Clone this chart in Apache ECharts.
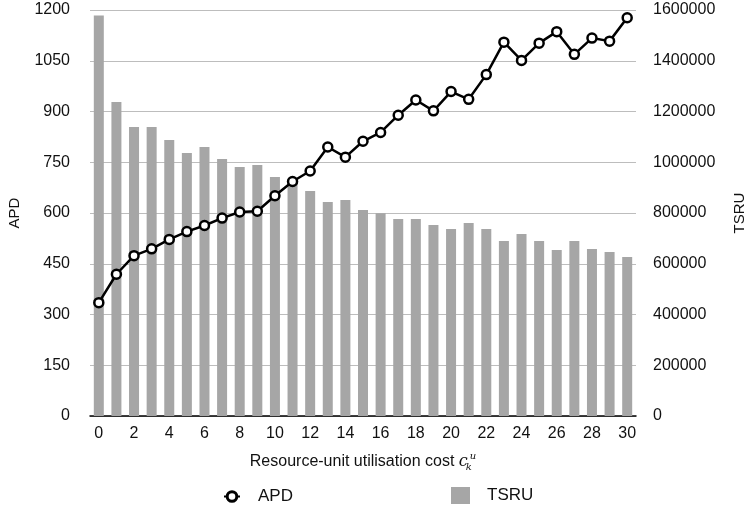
<!DOCTYPE html>
<html>
<head>
<meta charset="utf-8">
<script src="https://cdn.jsdelivr.net/npm/echarts@6/dist/echarts.min.js"></script>
<style>
  html, body { margin: 0; padding: 0; background: #fff; }
  #chart { width: 747px; height: 510px; }
</style>
</head>
<body>
<div id="chart"></div>
<script>
// Resource-unit utilisation cost values on the x axis
const costs = Array.from({ length: 31 }, (_, i) => String(i));

// Average processing delay per cost level
const apd = [335, 419, 474, 494, 522, 545, 563, 585, 603, 605,
             651, 693, 724, 795, 765, 812, 838, 889, 934, 902,
             959, 936, 1009, 1105, 1051, 1102, 1136, 1069, 1117, 1108, 1177];

// Total served resource units per cost level
const tsru = [1578000, 1237000, 1139000, 1139000, 1088000, 1036000, 1060000, 1013000, 981000, 989000,
              942000, 915000, 887000, 843000, 851000, 812000, 799000, 776000, 776000, 753000,
              737000, 761000, 737000, 690000, 717000, 690000, 654000, 690000, 658000, 646000, 627000];

const FONT = '"Liberation Sans", Arial, Helvetica, sans-serif';
const MATH = '"DejaVu Serif", "Liberation Serif", serif';
const TEXT = '#111';

const chart = echarts.init(document.getElementById('chart'), null, { renderer: 'canvas' });

chart.setOption({
  animation: false,
  backgroundColor: '#fff',
  textStyle: { fontFamily: FONT, color: TEXT },
  grid: { left: 90, right: 111, top: 10, bottom: 94, containLabel: false, outerBoundsMode: 'none' },
  legend: [
    {
      data: ['APD'],
      left: 218, top: 483,
      itemWidth: 16, itemHeight: 12, itemGap: 10,
      itemStyle: { borderWidth: 3 },
      textStyle: { fontFamily: FONT, fontSize: 17, color: TEXT, padding: [0, 0, 0, 13] }
    },
    {
      data: ['TSRU'],
      left: 446, top: 482,
      itemWidth: 19, itemHeight: 17, itemGap: 10,
      icon: 'rect',
      textStyle: { fontFamily: FONT, fontSize: 17, color: TEXT, padding: [0, 0, 0, 12] }
    }
  ],
  xAxis: {
    type: 'category',
    data: costs,
    boundaryGap: true,
    axisLine: { lineStyle: { color: '#000', width: 1.5 } },
    axisTick: { show: false },
    axisLabel: {
      interval: 1, margin: 10,
      fontFamily: FONT, fontSize: 16, color: TEXT
    },
    name: '{n|Resource-unit utilisation cost }{c|c}{k|k}{u|u}',
    nameLocation: 'middle',
    nameGap: 35,
    nameTextStyle: {
      rich: {
        n: { fontFamily: FONT, fontSize: 16, color: TEXT },
        c: { fontFamily: MATH, fontStyle: 'italic', fontSize: 16, color: TEXT },
        k: { fontFamily: MATH, fontStyle: 'italic', fontSize: 10, color: TEXT,
             width: 0, padding: [11, 0, 0, 1] },
        u: { fontFamily: MATH, fontStyle: 'italic', fontSize: 10, color: TEXT,
             padding: [0, 0, 11, 1] }
      }
    }
  },
  yAxis: [
    {
      type: 'value',
      min: 0, max: 1200, interval: 150,
      name: 'APD',
      nameLocation: 'middle',
      nameRotate: 90,
      nameGap: 68,
      nameTextStyle: { fontFamily: FONT, fontSize: 15, color: TEXT },
      axisLine: { show: false },
      axisTick: { show: false },
      axisLabel: { margin: 20, fontFamily: FONT, fontSize: 16, color: TEXT,
                   formatter: v => String(v) },
      splitLine: { lineStyle: { color: '#bdbdbd', width: 1.2 } }
    },
    {
      type: 'value',
      min: 0, max: 1600000, interval: 200000,
      name: 'TSRU',
      nameLocation: 'middle',
      nameRotate: 90,
      nameGap: 96,
      nameTextStyle: { fontFamily: FONT, fontSize: 15, color: TEXT },
      axisLine: { show: false },
      axisTick: { show: false },
      axisLabel: { margin: 17, fontFamily: FONT, fontSize: 16, color: TEXT,
                   formatter: v => String(v) },
      splitLine: { show: false }
    }
  ],
  series: [
    {
      name: 'TSRU',
      type: 'bar',
      yAxisIndex: 1,
      data: tsru,
      barWidth: 10,
      itemStyle: { color: '#a6a6a6' },
      z: 1
    },
    {
      name: 'APD',
      type: 'line',
      yAxisIndex: 0,
      data: apd,
      symbol: 'circle',
      symbolSize: 9,
      lineStyle: { color: '#000', width: 2.5 },
      itemStyle: { color: '#fff', borderColor: '#000', borderWidth: 2.5 },
      z: 3
    }
  ]
});
</script>
</body>
</html>
